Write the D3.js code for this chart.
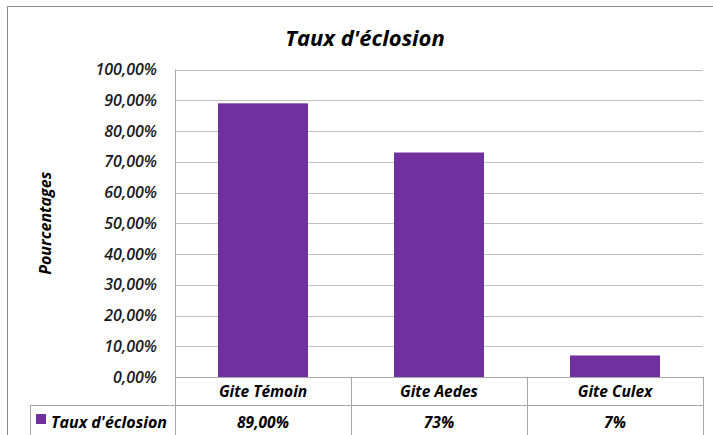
<!DOCTYPE html>
<html lang="fr">
<head>
<meta charset="utf-8">
<title>Taux d'éclosion</title>
<script src="https://cdn.jsdelivr.net/npm/d3@7"></script>
<style>
  body { margin: 0; background: #fff; }
  text { font-family: "Open Sans", sans-serif; font-style: italic; font-weight: bold; fill: #000; }
</style>
</head>
<body>
<script>
// data
var categories = ["Gite Témoin", "Gite Aedes", "Gite Culex"];
var values = [0.89, 0.73, 0.07];
var tableLabels = ["89,00%", "73%", "7%"];
var seriesName = "Taux d'éclosion";
var yTicks = [0, 0.1, 0.2, 0.3, 0.4, 0.5, 0.6, 0.7, 0.8, 0.9, 1.0];

var w = 713, h = 435;
var mLeft = 175, mRight = 703, mTop = 69.5, mBottom = 377;
var color = "#7030a0";

var svg = d3.select("body").append("svg")
  .attr("width", w)
  .attr("height", h);

// chart border
svg.append("rect")
  .attr("x", 7.5).attr("y", 6.5)
  .attr("width", w - 7).attr("height", h)
  .attr("fill", "none").attr("stroke", "#8c8c8c");

svg.append("text")
  .attr("x", 365).attr("y", 46)
  .attr("text-anchor", "middle")
  .style("font-size", "22px")
  .text("Taux d'éclosion");

var x = d3.scaleBand().domain(categories).range([mLeft, mRight]).paddingInner(0).paddingOuter(0);
var y = d3.scaleLinear().domain([0, 1]).range([mBottom, mTop]);

// gridlines
svg.append("g").selectAll("line")
  .data(yTicks)
  .enter().append("line")
  .attr("x1", mLeft).attr("x2", mRight)
  .attr("y1", function(d) { return Math.round(y(d)) + 0.5; })
  .attr("y2", function(d) { return Math.round(y(d)) + 0.5; })
  .attr("stroke", "#bfbfbf");

// y axis labels
var fmt = function(d) { return d3.format(".2f")(d * 100).replace(".", ",") + "%"; };
svg.append("g").selectAll("text")
  .data(yTicks)
  .enter().append("text")
  .attr("x", 157)
  .attr("y", function(d) { return y(d) + 5.5; })
  .attr("text-anchor", "end")
  .style("font-size", "16px")
  .style("font-weight", "600")
  .style("fill", "#1a1a1a")
  .text(fmt);

svg.append("text")
  .attr("transform", "translate(51," + ((mTop + mBottom) / 2) + ") rotate(-90)")
  .attr("text-anchor", "middle")
  .style("font-size", "16px")
  .text("Pourcentages");

// bars
var bw = 90;
svg.append("g").selectAll("rect")
  .data(values)
  .enter().append("rect")
  .attr("x", function(d, i) { return x(categories[i]) + (x.bandwidth() - bw) / 2; })
  .attr("y", function(d) { return y(d); })
  .attr("width", bw)
  .attr("height", function(d) { return mBottom - y(d); })
  .attr("fill", color);

// axis / table lines
var line = function(x1, y1, x2, y2) {
  svg.append("line")
    .attr("x1", x1).attr("y1", y1).attr("x2", x2).attr("y2", y2)
    .attr("stroke", "#a6a6a6");
};
line(mLeft + 0.5, mTop, mLeft + 0.5, 435);
line(mRight + 0.5, mBottom, mRight + 0.5, 435);
line(mLeft, mBottom + 0.5, mRight, mBottom + 0.5);
line(30, 405.5, mRight, 405.5);
line(30.5, 405, 30.5, 435);
categories.forEach(function(c, i) {
  if (i > 0) line(Math.round(x(c)) + 0.5, mBottom, Math.round(x(c)) + 0.5, 435);
});

svg.append("g").selectAll("text")
  .data(categories)
  .enter().append("text")
  .attr("x", function(d) { return x(d) + x.bandwidth() / 2; })
  .attr("y", 397)
  .attr("text-anchor", "middle")
  .style("font-size", "15.5px")
  .text(function(d) { return d; });

svg.append("g").selectAll("text")
  .data(tableLabels)
  .enter().append("text")
  .attr("x", function(d, i) { return x(categories[i]) + x.bandwidth() / 2; })
  .attr("y", 428)
  .attr("text-anchor", "middle")
  .style("font-size", "15.5px")
  .text(function(d) { return d; });

// legend key
svg.append("rect")
  .attr("x", 36).attr("y", 414)
  .attr("width", 10).attr("height", 10)
  .attr("fill", color);
svg.append("text")
  .attr("x", 51).attr("y", 428)
  .style("font-size", "16px")
  .text(seriesName);
</script>
</body>
</html>
